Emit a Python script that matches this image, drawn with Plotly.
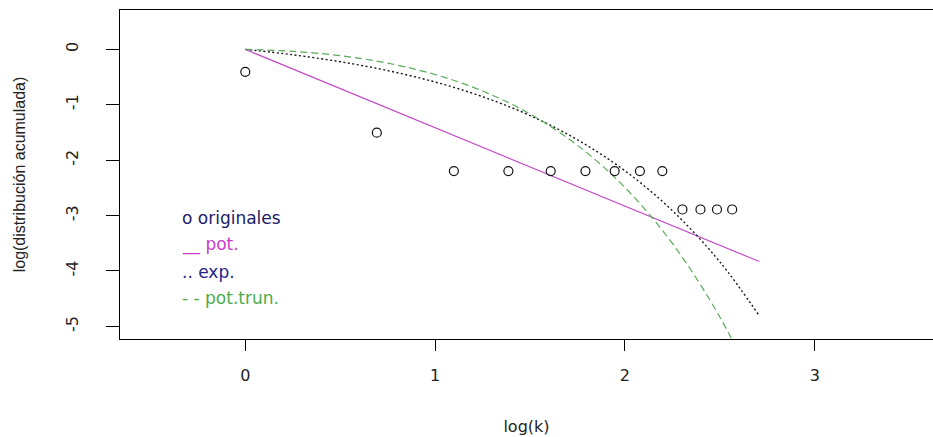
import plotly.graph_objects as go

# observed points: log(k) vs log(cumulative distribution)
log_k = [0.0, 0.693, 1.099, 1.386, 1.609, 1.792, 1.946, 2.079, 2.197,
         2.303, 2.398, 2.485, 2.565]
log_cum = [-0.405, -1.504, -2.197, -2.197, -2.197, -2.197, -2.197, -2.197,
           -2.197, -2.890, -2.890, -2.890, -2.890]

# fitted models
pot_x = [0.0, 2.708]
pot_y = [0.0, -3.83]

curve_x = [0.0, 0.25, 0.5, 0.75, 1.0, 1.25, 1.5, 1.75, 2.0, 2.25, 2.5, 2.708]
exp_y = [0.0, -0.097, -0.223, -0.383, -0.589, -0.854, -1.194, -1.631,
         -2.191, -2.911, -3.835, -4.81]
trun_y = [0.0, -0.035, -0.114, -0.248, -0.454, -0.751, -1.166, -1.732,
          -2.493, -3.503, -4.831, -6.25]

x_ticks = [0, 1, 2, 3]
y_ticks = [0, -1, -2, -3, -4, -5]

legend_rows = [
    ("o originales", "#1c1c66", -3.05),
    ("__ pot.", "#c83cc8", -3.53),
    (".. exp.", "#24248c", -4.01),
    ("- - pot.trun.", "#4cac4c", -4.49),
]

H_FONT = "DejaVu Sans"
V_FONT = "Liberation Sans, Arial"

fig = go.Figure()

fig.add_trace(go.Scatter(
    x=pot_x, y=pot_y, mode="lines",
    line=dict(color="#c44cc8", width=1.2),
    hoverinfo="skip"))

fig.add_trace(go.Scatter(
    x=curve_x, y=exp_y, mode="lines", line_shape="spline",
    line=dict(color="#1a1a1a", width=1.4, dash="2px,2.5px"),
    hoverinfo="skip"))

fig.add_trace(go.Scatter(
    x=curve_x, y=trun_y, mode="lines", line_shape="spline",
    line=dict(color="#5aaa5a", width=1.2, dash="7px,4px"),
    hoverinfo="skip"))

fig.add_trace(go.Scatter(
    x=log_k, y=log_cum, mode="markers",
    marker=dict(symbol="circle-open", size=9, color="#111111",
                line=dict(width=1.2, color="#111111")),
    cliponaxis=False))

for text, color, yy in legend_rows:
    fig.add_annotation(
        x=-0.344, y=yy, xref="x", yref="y", text=text, showarrow=False,
        xanchor="left", yanchor="middle",
        font=dict(family=H_FONT, size=17, color=color))

fig.update_layout(
    width=933, height=437,
    margin=dict(l=120, r=0, t=10, b=98),
    paper_bgcolor="white", plot_bgcolor="white",
    showlegend=False,
    xaxis=dict(
        range=[-0.66, 3.623], tickvals=x_ticks,
        ticktext=[str(v) for v in x_ticks],
        showgrid=False, zeroline=False,
        showline=True, mirror=True, linecolor="black", linewidth=1,
        ticks="outside", ticklen=11, tickcolor="black", tickwidth=1,
        ticklabelstandoff=11,
        tickfont=dict(family=H_FONT, size=16, color="#222222"),
        title=dict(text="log(k)", standoff=36,
                   font=dict(family=H_FONT, size=16, color="#222222")),
    ),
    yaxis=dict(
        range=[-5.228, 0.711], tickvals=y_ticks,
        ticktext=[str(v) for v in y_ticks],
        tickangle=-90,
        showgrid=False, zeroline=False,
        showline=True, mirror=False, linecolor="black", linewidth=1,
        ticks="outside", ticklen=13, tickcolor="black", tickwidth=1,
        ticklabelstandoff=22,
        tickfont=dict(family=H_FONT, size=16, color="#222222"),
        title=dict(text="log(distribución acumulada)", standoff=32,
                   font=dict(family=V_FONT, size=16, color="#222222")),
    ),
)

fig.write_html("out.html")
